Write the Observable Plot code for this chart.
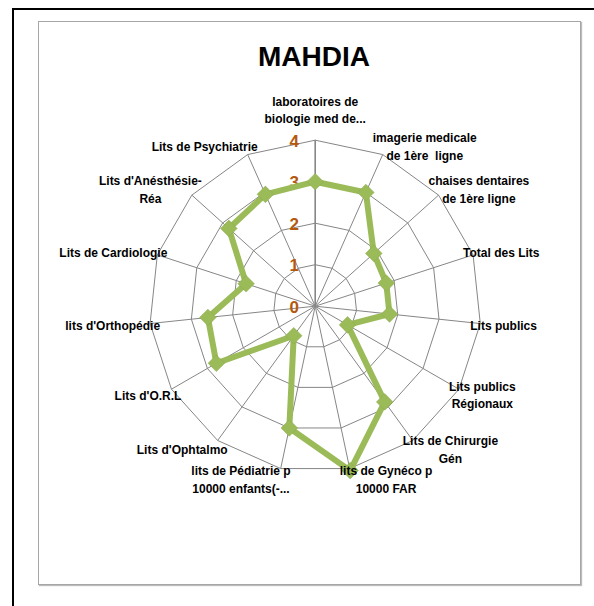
<!DOCTYPE html>
<html><head><meta charset="utf-8">
<script src="https://cdn.jsdelivr.net/npm/d3@7"></script>
<script src="https://cdn.jsdelivr.net/npm/@observablehq/plot@0.6"></script>
<style>
html,body{margin:0;padding:0;background:#fff;}
#page{position:relative;width:594px;height:606px;overflow:hidden;}
#outer{position:absolute;left:12px;top:8px;width:640px;height:640px;border-left:2px solid #000;border-top:2px solid #000;}
#frame{position:absolute;left:38px;top:21px;width:541px;height:562px;border:1px solid #a6a6a6;box-shadow:1px 1px 1px #bdbdbd;}
#title{position:absolute;left:214px;width:200px;top:37px;text-align:center;font-family:"Liberation Sans",Arial,sans-serif;font-weight:bold;font-size:28px;line-height:40px;color:#000;}
#chart{position:absolute;left:0;top:80px;}
</style>
</head><body>
<div id="page">
  <div id="outer"></div>
  <div id="frame"></div>
  <div id="title"></div>
  <div id="chart"></div>
</div>
<script>
const seriesName = "MAHDIA";
const categories = [
  "laboratoires de\nbiologie med de...",
  "imagerie medicale\nde 1ère  ligne",
  "chaises dentaires\nde 1ère ligne",
  "Total des Lits",
  "Lits publics",
  "Lits publics\nRégionaux",
  "Lits de Chirurgie\nGén",
  "lits de Gynéco p\n10000 FAR",
  "lits de Pédiatrie p\n10000 enfants(-...",
  "Lits d'Ophtalmo",
  "Lits d'O.R.L",
  "lits d'Orthopédie",
  "Lits de Cardiologie",
  "Lits d'Anésthésie-\nRéa",
  "Lits de Psychiatrie"
];
const values = [3.0, 3.0, 1.9, 1.8, 1.8, 0.9, 2.85, 4.05, 3.0, 0.88, 2.75, 2.6, 1.75, 2.8, 2.95];
const ticks = [0, 1, 2, 3, 4];

document.getElementById("title").textContent = seriesName;

const W = 594, H = 500, topOff = 80;
const cx0 = 314.7, cy0 = 305.7 - topOff, R = 166;
const vmax = d3.max(ticks);
const k = R / vmax;
const n = categories.length;
const ang = i => (i % n) * 2 * Math.PI / n;

const labelFont = '"Liberation Sans",Arial,sans-serif';
const labelSize = 12, lineH = 1.45;

const rings = ticks.filter(t => t > 0).flatMap(t =>
  d3.range(n + 1).map(i => ({ring: t, x: t * Math.sin(ang(i)), y: t * Math.cos(ang(i))})));
const spokes = categories.map((c, i) => ({i, x2: vmax * Math.sin(ang(i)), y2: vmax * Math.cos(ang(i))}));
const series = values.map((v, i) => ({cat: categories[i], v, x: v * Math.sin(ang(i)), y: v * Math.cos(ang(i))}));
const seriesClosed = [...series, series[0]];

const ctx = document.createElement("canvas").getContext("2d");
ctx.font = `bold ${labelSize}px ${labelFont}`;
const labels = categories.map((c, i) => {
  const lines = c.split("\n");
  const w = d3.max(lines, l => ctx.measureText(l).width);
  const h = lines.length * labelSize * lineH;
  const s = Math.sin(ang(i)), co = Math.cos(ang(i));
  const side = Math.abs(s) > 0.15 ? Math.sign(s) : 0;
  const dxp = side * (w / 2 - 10);
  const dyp = side ? co * 10 : co * (h / 2 + 14);
  return {text: c, x: vmax * s + dxp / k, y: vmax * co + dyp / k};
});

const plot = Plot.plot({
  width: W, height: H, margin: 0,
  x: {domain: [-vmax, vmax], range: [cx0 - R, cx0 + R], axis: null},
  y: {domain: [-vmax, vmax], range: [cy0 + R, cy0 - R], axis: null},
  style: {background: "transparent", overflow: "visible"},
  marks: [
    Plot.line(rings, {x: "x", y: "y", z: "ring", stroke: "#868686", strokeWidth: 1}),
    Plot.link(spokes, {x1: 0, y1: 0, x2: "x2", y2: "y2", stroke: "#868686", strokeWidth: d => d.i === 0 ? 1.6 : 1}),
    Plot.text(ticks, {x: 0, y: d => d, text: d => String(d), dx: -21, dy: 1,
      fill: "#B4580E", fontWeight: "bold", fontSize: 17, fontFamily: '"Liberation Sans",Arial,sans-serif'}),
    Plot.line(seriesClosed, {x: "x", y: "y", stroke: "#9BBB59", strokeWidth: 6, strokeLinejoin: "round"}),
    Plot.dot(series, {x: "x", y: "y", symbol: "diamond2", r: 7.5, fill: "#9BBB59", stroke: "#8aa84c", strokeWidth: 0.5}),
    Plot.text(labels, {x: "x", y: "y", text: "text", textAnchor: "middle", lineAnchor: "middle", lineHeight: lineH,
      fill: "#000", fontWeight: "bold", fontSize: labelSize, fontFamily: labelFont})
  ]
});
document.getElementById("chart").appendChild(plot);
</script>
</body></html>
